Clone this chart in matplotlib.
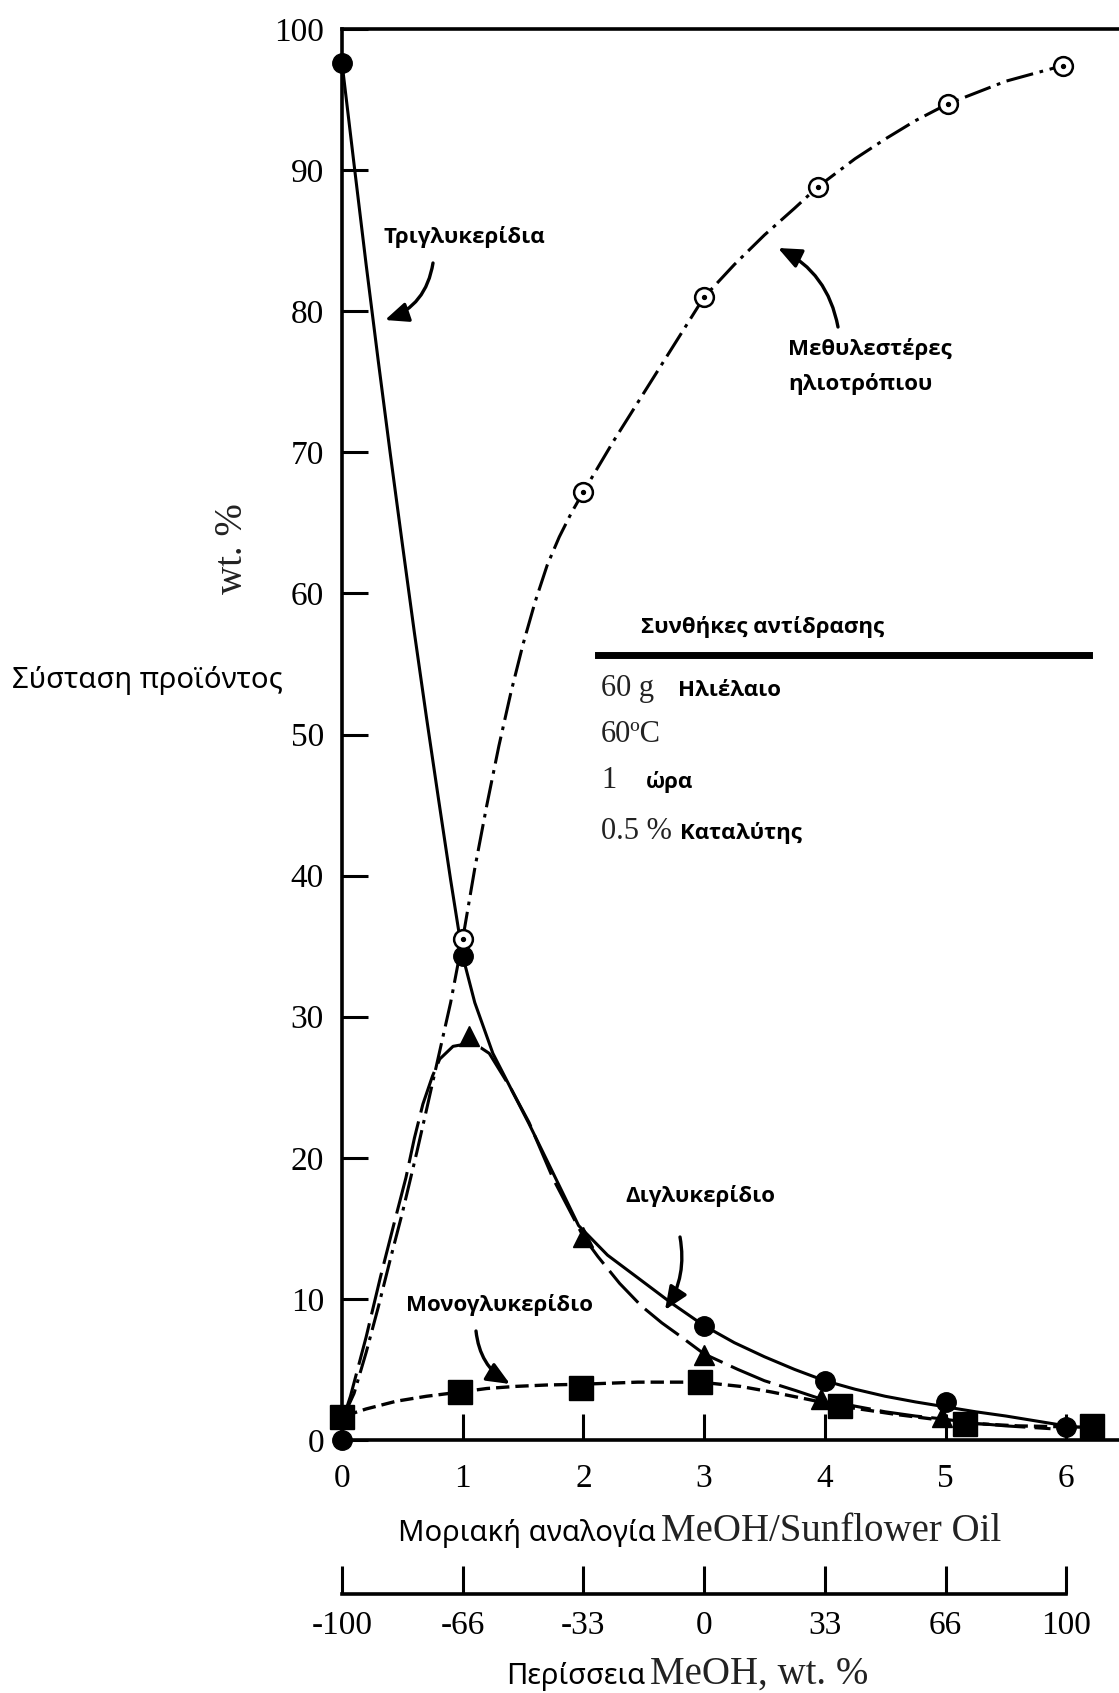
import matplotlib.pyplot as plt
from matplotlib.lines import Line2D
from matplotlib import font_manager

plt.rcParams['font.family'] = 'Liberation Serif'

# ---- values ----
# measured points (markers)
tg_x = [0, 0, 1, 3, 4, 5, 6]
tg_y = [97.6, 0.0, 34.3, 8.1, 4.2, 2.7, 0.9]
me_x = [1, 2, 3, 3.94, 5.02, 5.97]
me_y = [35.5, 67.2, 81.0, 88.8, 94.7, 97.4]
dg_x = [1.05, 2, 3, 3.97, 4.97]
dg_y = [28.6, 14.4, 6.0, 2.9, 1.6]
mg_x = [0, 0.98, 1.98, 2.97, 4.13, 5.16, 6.21]
mg_y = [1.6, 3.4, 3.7, 4.1, 2.4, 1.1, 1.0]

# hand drawn curves
tg_curve_x = [0, 0.1, 0.2, 0.3, 0.4, 0.5, 0.6, 0.7, 0.8, 0.9, 1.0, 1.1, 1.25, 1.4,
              1.55, 1.75, 1.96, 2.2, 2.45, 2.73, 3.0, 3.25, 3.5, 3.75, 4.0, 4.25,
              4.5, 4.75, 5.0, 5.25, 5.5, 5.75, 6.0]
tg_curve_y = [97.6, 90.4, 83.3, 76.5, 69.9, 63.5, 57.2, 51.2, 45.4, 39.7, 34.3, 31.0,
              27.4, 24.9, 22.4, 18.9, 15.2, 13.1, 11.5, 9.7, 8.1, 6.9, 5.9, 5.0, 4.2,
              3.6, 3.1, 2.7, 2.35, 2.0, 1.7, 1.35, 1.0]
me_curve_x = [0.02, 0.1, 0.2, 0.3, 0.4, 0.5, 0.62, 0.7, 0.8, 0.9, 1.0, 1.1, 1.2, 1.3,
              1.4, 1.5, 1.6, 1.7, 1.8, 1.9, 2.0, 2.25, 2.5, 2.75, 3.0, 3.25, 3.5,
              3.75, 3.94, 4.25, 4.5, 4.75, 5.02, 5.5, 5.97]
me_curve_y = [1.8, 3.3, 6.2, 9.4, 12.8, 16.1, 20.4, 23.4, 27.2, 31.0, 35.5, 40.5,
              45.0, 49.2, 53.0, 56.4, 59.4, 62.0, 64.0, 65.7, 67.2, 70.8, 74.2, 77.6,
              81.0, 83.3, 85.4, 87.3, 88.8, 90.8, 92.2, 93.5, 94.7, 96.3, 97.4]
dg_curve_x = [0.02, 0.07, 0.2, 0.32, 0.43, 0.53, 0.6, 0.67, 0.75, 0.81, 0.92, 1.05,
              1.15, 1.22, 1.4, 1.55, 1.75, 2.0, 2.12, 2.3, 2.48, 2.65, 2.78, 3.0, 3.28,
              3.5, 3.76, 3.97, 4.25, 4.5, 4.75, 4.97, 5.23, 5.5, 5.87]
dg_curve_y = [1.8, 3.1, 7.3, 11.6, 15.3, 18.6, 21.4, 23.8, 25.8, 27.0, 27.9, 28.1,
              27.8, 27.4, 24.9, 22.5, 18.5, 14.4, 13.0, 11.1, 9.5, 8.3, 7.5, 6.1, 5.0,
              4.2, 3.5, 2.9, 2.4, 2.0, 1.7, 1.5, 1.2, 1.0, 0.8]
mg_curve_x = [0.02, 0.2, 0.45, 0.7, 0.98, 1.2, 1.44, 1.7, 1.98, 2.45, 2.97, 3.3, 3.56,
              3.85, 4.13, 4.6, 5.16, 5.6, 6.21]
mg_curve_y = [1.7, 2.2, 2.75, 3.1, 3.4, 3.65, 3.8, 3.9, 3.95, 4.1, 4.1, 3.8, 3.4,
              2.9, 2.4, 1.8, 1.2, 1.0, 0.9]

y_ticks = [0, 10, 20, 30, 40, 50, 60, 70, 80, 90, 100]
ratio_ticks = [0, 1, 2, 3, 4, 5, 6]
excess_labels = ['-100', '-66', '-33', '0', '33', '66', '100']

W, H = 1119, 1693
GREEK = 'Noto Sans'


def pick_bold(names):
    # first family that really has a bold face installed
    for name in names:
        for f in font_manager.fontManager.ttflist:
            if f.name == name and str(f.weight) in ('600', '700', 'bold', 'semibold', 'demibold'):
                return name
    return 'DejaVu Sans'


GREEK_BOLD = pick_bold(['Noto Sans', 'Open Sans', 'Roboto', 'Inter', 'DejaVu Sans'])


def fpos(X, Y):
    # pixel position (top-left origin) -> figure fraction
    return X / W, 1 - Y / H


fig = plt.figure(figsize=(W / 100, H / 100), dpi=100)

# main axes
ax = fig.add_axes([342 / W, 1 - 1440 / H, 1 - 342 / W, (1440 - 29) / H])
ax.set_xlim(0, (W - 342) / 120.7)
ax.set_ylim(0, 100)
ax.spines['right'].set_visible(False)
for s in ['left', 'top', 'bottom']:
    ax.spines[s].set_linewidth(2.6)
ax.set_yticks(y_ticks)
ax.set_xticks(ratio_ticks)
ax.tick_params(axis='both', direction='in', length=19, width=2.2, labelsize=24)
ax.tick_params(axis='y', pad=13)
ax.tick_params(axis='x', pad=17)

# curves
ax.plot(tg_curve_x, tg_curve_y, color='black', lw=2.2, clip_on=False)
ax.plot(me_curve_x, me_curve_y, color='black', lw=2.2, ls=(0, (9, 2.2, 1.2, 2.2)), clip_on=False)
ax.plot(dg_curve_x, dg_curve_y, color='black', lw=2.2, ls=(0, (14, 3)), clip_on=False)
ax.plot(mg_curve_x, mg_curve_y, color='black', lw=2.4, ls=(0, (4, 1.8)), clip_on=False)

# markers
ax.plot(tg_x, tg_y, 'o', ms=14, color='black', zorder=5, clip_on=False)
ax.plot(me_x, me_y, 'o', ms=13.5, mfc='white', mec='black', mew=1.8, zorder=5, clip_on=False)
ax.plot(me_x, me_y, 'o', ms=2.8, color='black', zorder=6, clip_on=False)
ax.plot(dg_x, dg_y, '^', ms=15, color='black', zorder=5, clip_on=False)
ax.plot(mg_x, mg_y, 's', ms=17, color='black', zorder=5, clip_on=False)

# curve labels with curved arrows
lab = dict(family=GREEK_BOLD, fontweight='bold', fontsize=16, color='black')
arrow = dict(arrowstyle='-|>,head_length=0.7,head_width=0.3', color='black',
             lw=2.4, mutation_scale=20, shrinkA=0, shrinkB=0)

fig.text(*fpos(464, 237), 'Τριγλυκερίδια', ha='center', va='center', **lab)
ax.annotate('', xy=fpos(385, 320), xytext=fpos(433, 263), xycoords='figure fraction',
            arrowprops=dict(arrow, connectionstyle='arc3,rad=-0.3'))

fig.text(*fpos(788, 355), 'Μεθυλεστέρες', ha='left', va='baseline', **lab)
fig.text(*fpos(788, 390), 'ηλιοτρόπιου', ha='left', va='baseline', **lab)
ax.annotate('', xy=fpos(778, 248), xytext=fpos(838, 327), xycoords='figure fraction',
            arrowprops=dict(arrow, connectionstyle='arc3,rad=0.25'))

fig.text(*fpos(700, 1196), 'Διγλυκερίδιο', ha='center', va='center', **lab)
ax.annotate('', xy=fpos(665, 1310), xytext=fpos(680, 1237), xycoords='figure fraction',
            arrowprops=dict(arrow, connectionstyle='arc3,rad=-0.2'))

fig.text(*fpos(499, 1305), 'Μονογλυκερίδιο', ha='center', va='center', **lab)
ax.annotate('', xy=fpos(510, 1384), xytext=fpos(476, 1331), xycoords='figure fraction',
            arrowprops=dict(arrow, connectionstyle='arc3,rad=0.25'))

# reaction conditions box
fig.text(*fpos(763, 633), 'Συνθήκες αντίδρασης', ha='center', va='baseline', **lab)
fig.add_artist(Line2D([598 / W, 1089 / W], [1 - 655 / H] * 2, lw=5, color='black',
                      transform=fig.transFigure))
serif = dict(fontsize=22, color='#222222', va='baseline')
rows = [(696, '60 g', 678, 'Ηλιέλαιο'), (742, '60ºC', None, None),
        (788, '1', 646, 'ώρα'), (839, '0.5 %', 680, 'Καταλύτης')]
for Y, s1, X2, s2 in rows:
    fig.text(*fpos(601, Y), s1, ha='left', **serif)
    if s2:
        fig.text(*fpos(X2, Y), s2, ha='left', va='baseline', **lab)

# axis labels
fig.text(*fpos(233, 549), 'wt. %', rotation=90, ha='center', va='center', fontsize=28, color='#222222')
fig.text(*fpos(12, 688), 'Σύσταση προϊόντος', ha='left', va='baseline', family=GREEK,
         fontsize=21, color='black')
fig.text(*fpos(656, 1541), 'Μοριακή αναλογία', ha='right', va='baseline', family=GREEK,
         fontsize=21, color='black')
fig.text(*fpos(661, 1541), 'MeOH/Sunflower Oil', ha='left', va='baseline', fontsize=28,
         color='#222222')
fig.text(*fpos(645, 1684), 'Περίσσεια', ha='right', va='baseline', family=GREEK,
         fontsize=21, color='black')
fig.text(*fpos(650, 1684), 'MeOH, wt. %', ha='left', va='baseline', fontsize=28,
         color='#222222')

# second scale: excess of methanol
ax2 = fig.add_axes([342 / W, 1 - 1594 / H, 1 - 342 / W, 0.02])
ax2.set_xlim(ax.get_xlim())
ax2.patch.set_visible(False)
for s in ['left', 'right', 'top']:
    ax2.spines[s].set_visible(False)
ax2.spines['bottom'].set_linewidth(2.6)
ax2.spines['bottom'].set_bounds(0, 6)
ax2.set_yticks([])
ax2.set_xticks(ratio_ticks, excess_labels)
ax2.tick_params(axis='x', direction='in', length=20, width=2.2, labelsize=24, pad=12)

fig.savefig('out.png', dpi=100)
